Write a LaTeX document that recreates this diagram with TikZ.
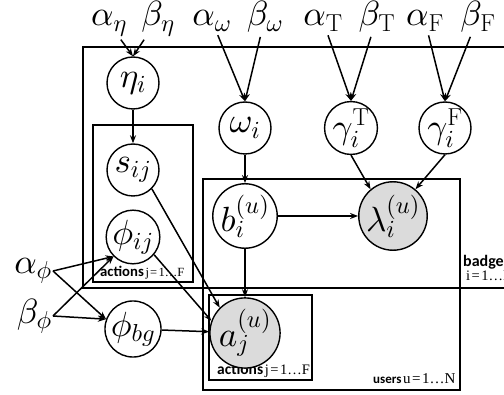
\documentclass[tikz,border=0pt]{standalone}
\usepackage{fontspec}
\newfontfamily\lblsans{Carlito}
\newfontfamily\lblserif{Liberation Serif}
\usetikzlibrary{arrows.meta}
% scalable Computer Modern math at any size
\DeclareFontShape{OML}{cmm}{m}{it}{<-6>cmmi5<6-8>cmmi7<8->cmmi10}{}
\DeclareFontShape{OT1}{cmr}{m}{n}{<-6>cmr5<6-8>cmr7<8->cmr10}{}
\DeclareFontShape{OMS}{cmsy}{m}{n}{<-6>cmsy5<6-8>cmsy7<8->cmsy10}{}
% plate caption pieces: bold sans name, serif index range
\newcommand{\platename}[2]{{\fontsize{#2}{#2}\selectfont\lblsans\bfseries #1}}
\newcommand{\platerange}[4]{{\fontsize{#4}{#4}\selectfont\lblserif #1\hspace{0.1em}=\hspace{0.1em}#2…#3}}

\begin{document}
\begin{tikzpicture}[x=1pt,y=-1pt,
  var/.style={circle,draw,line width=1.4pt,minimum size=52pt,inner sep=0pt,
              font=\fontsize{35}{40}\selectfont},
  obs/.style={var,fill=black!14},
  hyper/.style={inner sep=1pt,font=\fontsize{35}{40}\selectfont},
  plate/.style={draw,line width=2.4pt},
  arr/.style={-{Stealth[length=8pt,width=6pt]},line width=1.5pt},
  hyparr/.style={arr,shorten <=3pt},
  platelbl/.style={inner sep=0pt,anchor=base west},
]
\useasboundingbox (0,0) rectangle (504,395);
\clip (0,0) rectangle (504,395);

% plates
\draw[plate] (83,47) rectangle (530,288);
\draw[plate] (93,125) rectangle (193,282);
\draw[plate] (203,179) rectangle (460,390);
\draw[plate] (209,295) rectangle (312,380);

% plate labels
\node[platelbl] (lblact1) at (100,277)
  {\platename{actions}{14.7}\,\platerange{j}{1}{F}{12.5}};
\node[platelbl] (lblact2) at (217,375)
  {\platename{actions}{15.5}\,\platerange{j}{1}{F}{14.5}};
\node[platelbl] (lblusers) at (373,384)
  {\platename{users}{13}\,\platerange{u}{1}{N}{15}};
\node[platelbl] (lblbadge) at (463,267)
  {\platename{badge}{16}};
\node[platelbl] (lblbadgei) at (466,281)
  {\platerange{i}{1}{F}{14.5}};

% latent and observed variables
\node[var] (eta)   at (133,83)  {$\eta_i$};
\node[var] (s)     at (133,170) {$s_{ij}$};
\node[var] (phiij) at (133,237) {$\phi_{ij}$};
\node[var] (phibg) at (133,329) {$\phi_{bg}$};
\node[var] (omega) at (245,128) {$\omega_i$};
\node[var] (b)     at (245,216) {$b_i^{(u)}$};
\node[obs] (a)     at (245,333) {$a_j^{(u)}$};
\node[var] (gT)    at (351,128) {$\gamma_i^{\mathrm{T}}$};
\node[var] (gF)    at (445,128) {$\gamma_i^{\mathrm{F}}$};
\node[obs] (lam)   at (393,216) {$\lambda_i^{(u)}$};

% hyperparameters
\node[hyper,anchor=base] (aeta) at (109,26) {$\alpha_\eta$};
\node[hyper,anchor=base] (beta) at (158,26) {$\beta_\eta$};
\node[hyper,anchor=base] (aom)  at (212,26) {$\alpha_\omega$};
\node[hyper,anchor=base] (bom)  at (265,26) {$\beta_\omega$};
\node[hyper,anchor=base] (aT)   at (323,26) {$\alpha_{\mathrm{T}}$};
\node[hyper,anchor=base] (bT)   at (377,26) {$\beta_{\mathrm{T}}$};
\node[hyper,anchor=base] (aF)   at (425,26) {$\alpha_{\mathrm{F}}$};
\node[hyper,anchor=base] (bF)   at (478,26) {$\beta_{\mathrm{F}}$};
\node[hyper,anchor=east] (aphi) at (53,271) {$\alpha_\phi$};
\node[hyper,anchor=east] (bphi) at (53,316) {$\beta_\phi$};

% hyperparameter edges
\draw[hyparr] (aeta) -- (eta.north);
\draw[hyparr] (beta) -- (eta.north);
\draw[hyparr] (aom) -- (omega.north);
\draw[hyparr] (bom) -- (omega.north);
\draw[hyparr] (aT) -- (gT.north);
\draw[hyparr] (bT) -- (gT.north);
\draw[hyparr] (aF) -- (gF.north);
\draw[hyparr] (bF) -- (gF.north);
\draw[arr] (aphi.east) -- (phiij.225);
\draw[arr] (aphi.east) -- (phibg.160);
\draw[arr] (bphi.east) -- (phiij.225);
\draw[arr] (bphi.east) -- (phibg.160);

% dependencies
\draw[arr] (eta) -- (s);
\draw[arr] (omega) -- (b);
\draw[arr] (b) -- (lam);
\draw[arr] (b) -- (a);
\draw[arr] (gT.south) -- (lam.130);
\draw[arr] (gF.south) -- (lam.50);
\draw[arr] (s.-45) -- (a.135);
\draw[arr] (phiij.-40) -- (a.160);
\draw[arr] (phibg) -- (a);
\end{tikzpicture}
\end{document}
